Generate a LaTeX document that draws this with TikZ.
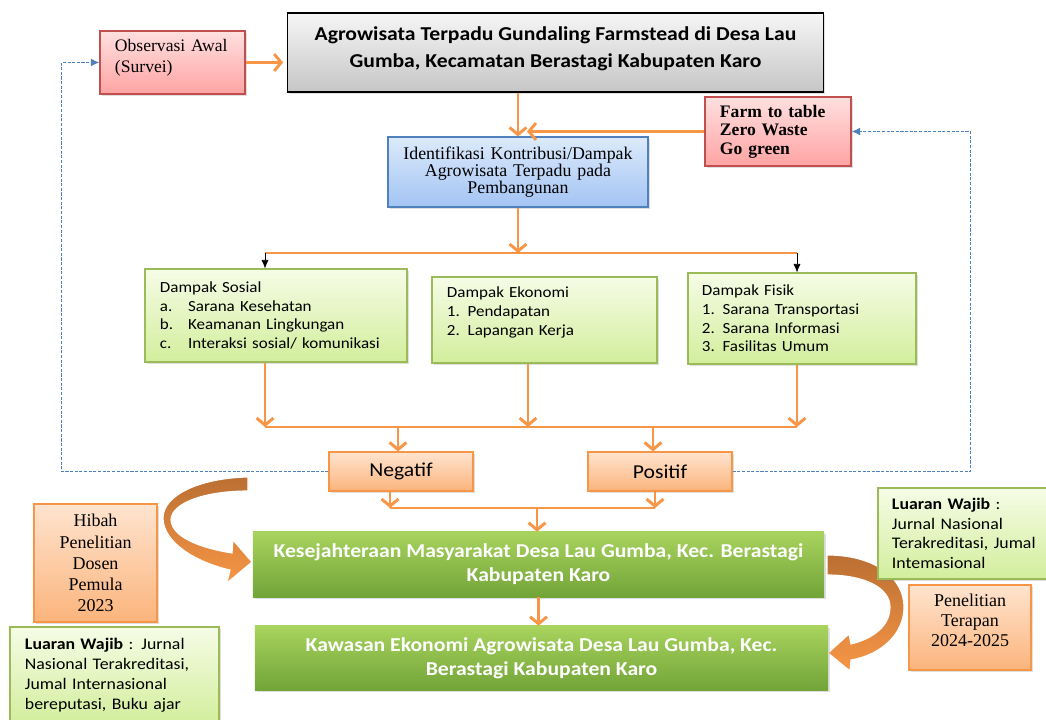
\documentclass[tikz,border=0pt]{standalone}
\usepackage{fontspec}
\setmainfont{Liberation Serif}
\setsansfont[FakeStretch=1.1]{Carlito}
\usetikzlibrary{arrows.meta, shadows}

\definecolor{oline}{HTML}{F79646}
\definecolor{fbblue}{HTML}{4F81BD}
\definecolor{gborder}{HTML}{9BBB59}
\definecolor{rborder}{HTML}{C0504D}
\definecolor{brownarc}{HTML}{BA6F32}
\definecolor{pinktop}{HTML}{FFE0E0}
\definecolor{pinkbot}{HTML}{FFA3A3}
\definecolor{bluetop}{HTML}{DCEAFB}
\definecolor{bluebot}{HTML}{A3C4F3}
\definecolor{orgtop}{HTML}{FFE4CF}
\definecolor{orgbot}{HTML}{FBB47C}
\definecolor{limetop}{HTML}{F6FCE6}
\definecolor{limebot}{HTML}{D2EE9C}
\definecolor{bartop}{HTML}{A8D35E}
\definecolor{barbot}{HTML}{72A438}

\newcommand{\butir}[1]{\makebox[20pt][l]{#1}}

\begin{document}
\begin{tikzpicture}[x=0.025cm, y=-0.025cm,
  shadowed/.style={drop shadow={shadow xshift=1.3pt, shadow yshift=-1.3pt, opacity=0.25}},
  graybox/.style={draw=black, line width=0.8pt, top color=gray!7, bottom color=gray!45, shadowed},
  pinkbox/.style={draw=rborder, line width=0.8pt, top color=pinktop, bottom color=pinkbot, shadowed},
  bluebox/.style={draw=fbblue, line width=0.8pt, top color=bluetop, bottom color=bluebot, shadowed},
  orangebox/.style={draw=oline, line width=0.8pt, top color=orgtop, bottom color=orgbot, shadowed},
  limebox/.style={draw=gborder, line width=0.8pt, top color=limetop, bottom color=limebot, shadowed},
  greenbar/.style={top color=bartop, bottom color=barbot, text=white, shadowed},
  flow/.style={oline, line width=2.1pt, -{Straight Barb[length=5pt, width=12pt]}},
  sambung/.style={oline, line width=2.1pt},
  tick/.style={black, thin, -{Latex[length=6pt, width=5pt]}},
  back/.style={fbblue, line width=0.8pt, dash pattern=on 2.2pt off 1.1pt, -{Latex[length=6pt, width=5.5pt]}},
  band/.style={top color=brownarc, bottom color=oline, draw=white, line width=0.8pt},
  listtext/.style={align=left, font=\sffamily\fontsize{11}{13.2}\selectfont},
  serifmid/.style={align=center, font=\fontsize{12.8}{15}\selectfont}]
\useasboundingbox (0,0) rectangle (1046,720);

% curved arrows
\shade[band] (248,477) .. controls (200,478) and (163,495) .. (163,518)
  .. controls (163,542) and (195,562) .. (230,570) -- (227,583) -- (252,562) -- (233,540) -- (232,553)
  .. controls (200,548) and (172,537) .. (171,520) .. controls (171,503) and (205,491) .. (248,491) -- cycle;
\shade[band] (827,555) .. controls (875,555) and (904,578) .. (904,607)
  .. controls (904,635) and (880,655) .. (851,660) -- (850,671) -- (828,653) -- (849,634) -- (851,644)
  .. controls (875,638) and (890,625) .. (890,607) .. controls (890,588) and (865,575) .. (827,575) -- cycle;

\node[graybox, minimum width=13.375cm, minimum height=1.975cm, align=center, text depth=8pt, font=\sffamily\bfseries\fontsize{14}{19}\selectfont] (judul) at (555.5,52.5) {Agrowisata Terpadu Gundaling Farmstead di Desa Lau\\Gumba, Kecamatan Berastagi Kabupaten Karo};
\node[pinkbox, text width=2.875cm, inner xsep=0.375cm, minimum height=1.575cm, align=left, text depth=25pt, font=\fontsize{12.5}{15.6}\selectfont] (observasi) at (172.5,62.5) {Observasi Awal\\(Survei)};
\node[pinkbox, text width=2.9cm, inner xsep=0.375cm, minimum height=1.725cm, align=left, font=\bfseries\fontsize{12.5}{13.2}\selectfont] (farm) at (778,131.5) {Farm to table\\Zero Waste\\Go green};
\node[bluebox, text width=6.2cm, inner xsep=0.15cm, minimum height=1.75cm, align=center, font=\fontsize{12.7}{12.2}\selectfont] (identifikasi) at (518,172) {Identifikasi Kontribusi/Dampak\\Agrowisata Terpadu pada\\Pembangunan};

\node[limebox, listtext, text width=5.8cm, inner xsep=0.375cm, minimum height=2.325cm] (sosial) at (276,315.5) {Dampak Sosial\\\butir{a.}Sarana Kesehatan\\\butir{b.}Keamanan Lingkungan\\\butir{c.}Interaksi sosial/ komunikasi};
\node[limebox, listtext, text width=4.875cm, inner xsep=0.375cm, minimum height=2.15cm, text depth=39pt] (ekonomi) at (544.5,320) {Dampak Ekonomi\\1. Pendapatan\\2. Lapangan Kerja};
\node[limebox, listtext, text width=5cm, inner xsep=0.35cm, minimum height=2.275cm] (fisik) at (802,318.5) {Dampak Fisik\\1. Sarana Transportasi\\2. Sarana Informasi\\3. Fasilitas Umum};

\node[orangebox, minimum width=3.6cm, minimum height=0.975cm, font=\sffamily\fontsize{14}{16}\selectfont] (negatif) at (401,471.5) {Negatif};
\node[orangebox, minimum width=3.6cm, minimum height=0.975cm, font=\sffamily\fontsize{14}{16}\selectfont] (positif) at (660,471.5) {Positif};

\node[greenbar, minimum width=14.275cm, minimum height=1.625cm, align=center, font=\sffamily\bfseries\fontsize{14}{17}\selectfont] (kesejahteraan) at (538.5,564.5) {Kesejahteraan Masyarakat Desa Lau Gumba, Kec. Berastagi\\Kabupaten Karo};
\node[greenbar, minimum width=14.325cm, minimum height=1.6cm, align=center, font=\sffamily\bfseries\fontsize{14}{17}\selectfont] (kawasan) at (541.5,658) {Kawasan Ekonomi Agrowisata Desa Lau Gumba, Kec.\\Berastagi Kabupaten Karo};

\node[orangebox, serifmid, minimum width=3.075cm, minimum height=2.95cm] (hibah) at (95.5,563) {Hibah\\Penelitian\\Dosen\\Pemula\\2023};
\node[orangebox, serifmid, minimum width=3.05cm, minimum height=2.125cm, text depth=10pt, font=\fontsize{12.8}{14.2}\selectfont] (terapan) at (970,627.5) {Penelitian\\Terapan\\2024-2025};
\node[limebox, text width=4.475cm, inner xsep=0.375cm, minimum height=2.425cm, align=left, font=\sffamily\fontsize{11.5}{14.2}\selectfont] (luarankiri) at (114.5,675.5) {\textbf{Luaran Wajib} : Jurnal\\Nasional Terakreditasi,\\Jumal Internasional\\bereputasi, Buku ajar};
\node[limebox, text width=3.6cm, inner xsep=0.35cm, minimum height=2.275cm, align=left, font=\sffamily\fontsize{11.5}{13.9}\selectfont] (luarankanan) at (964,533.5) {\textbf{Luaran Wajib} :\\Jurnal Nasional\\Terakreditasi, Jumal\\Intemasional};

% main flow
\draw[flow, shorten >=3pt] (observasi.east) -- (observasi.east -| judul.west);
\draw[flow] (identifikasi.north |- judul.south) -- (identifikasi.north);
\coordinate (masuk) at (527,131.5);
\draw[flow] (farm.west) -- (masuk);
\coordinate (cabangkiri) at (265,253);
\coordinate (cabangkanan) at (797,253);
\draw[sambung] (cabangkiri) -- (cabangkanan);
\draw[flow] (identifikasi.south) -- (identifikasi.south |- cabangkiri);
\draw[tick] (cabangkiri) -- (cabangkiri |- sosial.north);
\draw[tick] (cabangkanan) -- (cabangkanan |- fisik.north);

\coordinate (gabungkiri) at (265,427);
\coordinate (gabungtengah) at (528,427);
\coordinate (gabungkanan) at (797,427);
\draw[sambung] (gabungkiri) -- (gabungkanan);
\draw[flow] (gabungkiri |- sosial.south) -- (gabungkiri);
\draw[flow] (gabungtengah |- ekonomi.south) -- (gabungtengah);
\draw[flow] (gabungkanan |- fisik.south) -- (gabungkanan);
\coordinate (keneg) at (398,427);
\coordinate (kepos) at (653,427);
\draw[flow] (keneg) -- (keneg |- negatif.north);
\draw[flow] (kepos) -- (kepos |- positif.north);

\coordinate (hasilkiri) at (390,508);
\coordinate (hasiltengah) at (537,508);
\coordinate (hasilkanan) at (655,508);
\draw[sambung] (hasilkiri) -- (hasilkanan);
\draw[flow] (hasilkiri |- negatif.south) -- (hasilkiri);
\draw[flow] (hasilkanan |- positif.south) -- (hasilkanan);
\draw[flow] (hasiltengah) -- (hasiltengah |- kesejahteraan.north);
\draw[flow] (kesejahteraan.south) -- (kesejahteraan.south |- kawasan.north);

% feedback
\draw[back] (negatif.west) -- ++(-267,0) |- (observasi.west);
\draw[back] (positif.east) -- ++(238,0) |- (farm.east);
\end{tikzpicture}
\end{document}
